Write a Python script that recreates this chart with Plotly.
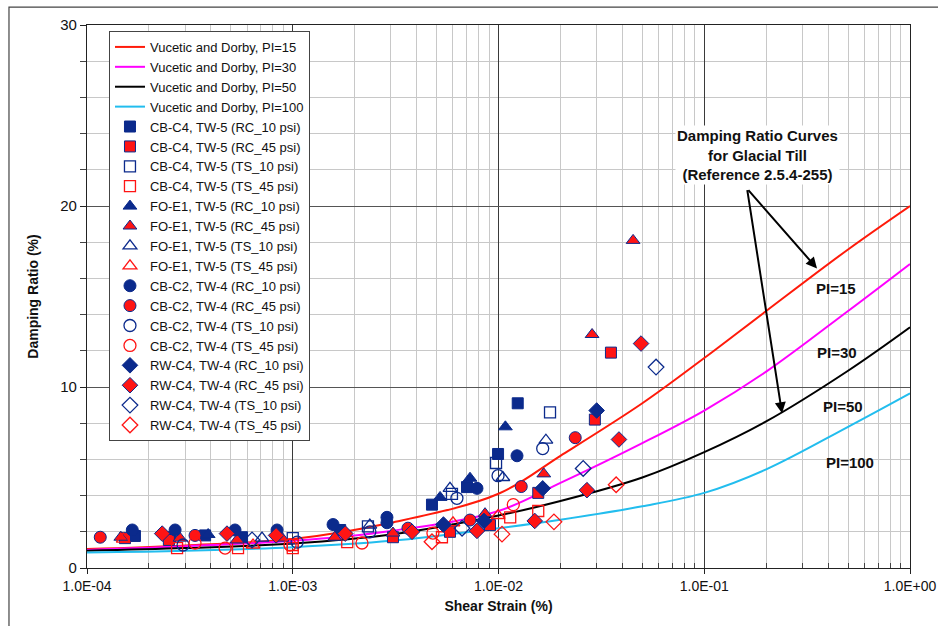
import plotly.graph_objects as go

# ---------------- data ----------------
curve_strain = [1e-4, 3e-4, 1e-3, 3e-3, 1e-2, 2e-2, 5e-2, 1e-1, 2e-1, 5e-1, 1.0]
curve_pi15 = [1.05, 1.25, 1.6, 2.5, 4.1, 6.2, 9.1, 11.6, 14.2, 17.6, 20.0]
curve_pi30 = [1.0, 1.2, 1.5, 2.05, 3.15, 4.7, 6.9, 8.7, 10.85, 14.2, 16.8]
curve_pi50 = [0.95, 1.1, 1.35, 1.85, 2.9, 3.7, 5.0, 6.4, 8.1, 10.9, 13.3]
curve_pi100 = [0.85, 0.95, 1.15, 1.5, 2.2, 2.67, 3.41, 4.15, 5.45, 7.8, 9.65]
curve_names = ["Vucetic and Dorby, PI=15", "Vucetic and Dorby, PI=30",
               "Vucetic and Dorby, PI=50", "Vucetic and Dorby, PI=100"]

cbc4_rc10_x = [1.71e-4, 2.53e-4, 3.75e-4, 5.67e-4, 1.70e-3, 4.75e-3, 7.03e-3, 9.95e-3, 1.24e-2]
cbc4_rc10_y = [1.77, 1.7, 1.8, 1.7, 2.1, 3.5, 4.47, 6.3, 9.1]
cbc4_rc45_x = [1.53e-4, 2.5e-4, 3.07e-3, 5.81e-3, 9.09e-3, 1.56e-2, 2.94e-2, 3.52e-2]
cbc4_rc45_y = [1.65, 1.55, 1.7, 2.0, 2.37, 4.15, 8.2, 11.9]
cbc4_ts10_x = [1.0e-3, 2.32e-3, 5.94e-3, 9.73e-3, 1.78e-2]
cbc4_ts10_y = [1.65, 2.3, 4.1, 5.8, 8.6]
cbc4_ts45_x = [2.74e-4, 5.42e-4, 1.0e-3, 1.0e-3, 1.84e-3, 5.31e-3, 1.14e-2, 1.56e-2]
cbc4_ts45_y = [1.1, 1.1, 1.27, 1.1, 1.43, 1.7, 2.8, 3.15]

foe1_rc10_x = [3.88e-4, 5.20e-3, 7.27e-3, 1.08e-2]
foe1_rc10_y = [1.85, 3.9, 4.96, 7.8]
foe1_rc45_x = [1.46e-4, 2.83e-4, 5.36e-4, 8.87e-4, 1.60e-3, 3.07e-3, 8.6e-3, 1.66e-2, 2.85e-2, 4.51e-2]
foe1_rc45_y = [1.7, 1.65, 1.55, 1.65, 1.7, 1.93, 3.0, 5.2, 12.9, 18.1]
foe1_ts10_x = [7.09e-4, 2.37e-3, 5.81e-3, 1.05e-2, 1.70e-2]
foe1_ts10_y = [1.65, 2.37, 4.4, 5.0, 7.06]
foe1_ts45_x = [1.5e-4, 6.41e-4, 6.01e-3, 9.95e-3]
foe1_ts45_y = [1.6, 1.27, 2.5, 2.9]

cbc2_rc10_x = [1.66e-4, 2.68e-4, 5.24e-4, 8.39e-4, 1.57e-3, 2.87e-3, 2.87e-3, 7.86e-3, 1.23e-2]
cbc2_rc10_y = [2.1, 2.1, 2.1, 2.1, 2.4, 2.8, 2.5, 4.4, 6.2]
cbc2_rc45_x = [1.16e-4, 3.35e-4, 3.63e-3, 7.27e-3, 1.29e-2, 2.36e-2]
cbc2_rc45_y = [1.7, 1.8, 2.2, 2.65, 4.5, 7.2]
cbc2_ts10_x = [2.93e-4, 1.05e-3, 2.37e-3, 6.28e-3, 9.95e-3, 1.64e-2]
cbc2_ts10_y = [1.27, 1.43, 2.0, 3.85, 5.1, 6.6]
cbc2_ts45_x = [3.35e-4, 4.69e-4, 9.7e-4, 2.17e-3, 4.8e-3, 1.18e-2]
cbc2_ts45_y = [1.38, 1.1, 1.27, 1.38, 1.93, 3.5]

rwc4_rc10_x = [5.4e-3, 8.5e-3, 1.64e-2, 3.0e-2]
rwc4_rc10_y = [2.4, 2.6, 4.4, 8.7]
rwc4_rc45_x = [2.32e-4, 4.79e-4, 8.3e-4, 1.80e-3, 3.80e-3, 7.86e-3, 1.5e-2, 2.69e-2, 3.85e-2, 4.93e-2]
rwc4_rc45_y = [1.9, 1.9, 1.8, 1.9, 2.0, 2.05, 2.6, 4.3, 7.1, 12.4]
rwc4_ts10_x = [6.34e-4, 6.65e-3, 2.58e-2, 5.83e-2]
rwc4_ts10_y = [1.55, 2.2, 5.5, 11.1]
rwc4_ts45_x = [4.75e-3, 1.04e-2, 1.86e-2, 3.73e-2]
rwc4_ts45_y = [1.45, 1.87, 2.55, 4.6]

x_tickvals = [1e-4, 1e-3, 1e-2, 1e-1, 1.0]
x_ticktext = ["1.0E-04", "1.0E-03", "1.0E-02", "1.0E-01", "1.0E+00"]
y_tickvals = [0, 10, 20, 30]

# ---------------- styling ----------------
NAVY = "#0B2A8C"
RED = "#FF1414"
curve_colors = ["#FF1A0A", "#FF00FF", "#000000", "#22BDEE"]
FONT = "Liberation Sans, Arial"

fig = go.Figure()
for name, ys, col in zip(curve_names, [curve_pi15, curve_pi30, curve_pi50, curve_pi100], curve_colors):
    fig.add_trace(go.Scatter(x=curve_strain, y=ys, mode="lines", name=name,
                             line=dict(color=col, width=2, shape="spline", smoothing=1.0)))

series = [
    ("CB-C4, TW-5 (RC_10 psi)", cbc4_rc10_x, cbc4_rc10_y, "square", "fb"),
    ("CB-C4, TW-5 (RC_45 psi)", cbc4_rc45_x, cbc4_rc45_y, "square", "fr"),
    ("CB-C4, TW-5 (TS_10 psi)", cbc4_ts10_x, cbc4_ts10_y, "square", "ob"),
    ("CB-C4, TW-5 (TS_45 psi)", cbc4_ts45_x, cbc4_ts45_y, "square", "or"),
    ("FO-E1, TW-5 (RC_10 psi)", foe1_rc10_x, foe1_rc10_y, "triangle-up", "fb"),
    ("FO-E1, TW-5 (RC_45 psi)", foe1_rc45_x, foe1_rc45_y, "triangle-up", "fr"),
    ("FO-E1, TW-5 (TS_10 psi)", foe1_ts10_x, foe1_ts10_y, "triangle-up", "ob"),
    ("FO-E1, TW-5 (TS_45 psi)", foe1_ts45_x, foe1_ts45_y, "triangle-up", "or"),
    ("CB-C2, TW-4 (RC_10 psi)", cbc2_rc10_x, cbc2_rc10_y, "circle", "fb"),
    ("CB-C2, TW-4 (RC_45 psi)", cbc2_rc45_x, cbc2_rc45_y, "circle", "fr"),
    ("CB-C2, TW-4 (TS_10 psi)", cbc2_ts10_x, cbc2_ts10_y, "circle", "ob"),
    ("CB-C2, TW-4 (TS_45 psi)", cbc2_ts45_x, cbc2_ts45_y, "circle", "or"),
    ("RW-C4, TW-4 (RC_10 psi)", rwc4_rc10_x, rwc4_rc10_y, "diamond", "fb"),
    ("RW-C4, TW-4 (RC_45 psi)", rwc4_rc45_x, rwc4_rc45_y, "diamond", "fr"),
    ("RW-C4, TW-4 (TS_10 psi)", rwc4_ts10_x, rwc4_ts10_y, "diamond", "ob"),
    ("RW-C4, TW-4 (TS_45 psi)", rwc4_ts45_x, rwc4_ts45_y, "diamond", "or"),
]
sizes = {"square": 11, "triangle-up": 12, "circle": 12, "diamond": 12}
for name, xs, ys, sym, kind in series:
    if kind == "fb":
        mk = dict(symbol=sym, color=NAVY, size=sizes[sym], line=dict(color=NAVY, width=1))
    elif kind == "fr":
        mk = dict(symbol=sym, color=RED, size=sizes[sym], line=dict(color=NAVY, width=1))
    elif kind == "ob":
        mk = dict(symbol=sym + "-open", color=NAVY, size=sizes[sym], line=dict(width=1.3))
    else:
        mk = dict(symbol=sym + "-open", color=RED, size=sizes[sym], line=dict(width=1.3))
    fig.add_trace(go.Scatter(x=xs, y=ys, mode="markers", name=name, marker=mk))

minor_x = [k * 10.0 ** e for e in range(-4, 0) for k in range(2, 10)]

fig.update_xaxes(
    type="log", range=[-4, 0], automargin=False,
    tickvals=x_tickvals, ticktext=x_ticktext,
    tickfont=dict(family=FONT, size=14, color="#111"),
    showgrid=True, gridcolor="#3a3a3a", gridwidth=1,
    showline=True, linecolor="#222", linewidth=1.2, mirror=True,
    ticks="outside", ticklen=5, tickcolor="#222",
    minor=dict(tickmode="array", tickvals=minor_x, showgrid=True, gridcolor="#c8c8c8",
               gridwidth=1.3, ticks="inside", ticklen=5, tickcolor="#444"),
    title=dict(text="<b>Shear Strain (%)</b>", font=dict(family=FONT, size=14, color="#111"),
               standoff=8),
    zeroline=False,
)
fig.update_yaxes(
    range=[0, 30], tickvals=y_tickvals, automargin=False,
    tickfont=dict(family=FONT, size=15, color="#111"),
    showgrid=True, gridcolor="#555555", gridwidth=1,
    showline=True, linecolor="#222", linewidth=1.2, mirror=True,
    ticks="outside", ticklen=6, tickcolor="#222",
    minor=dict(dtick=2, showgrid=True, gridcolor="#c8c8c8", gridwidth=1.3,
               ticks="outside", ticklen=6, tickcolor="#444"),
    title=dict(text="<b>Damping Ratio (%)</b>", font=dict(family=FONT, size=14, color="#111"),
               standoff=18),
    zeroline=False,
)

annot_font = dict(family=FONT, size=15, color="#111")
# text block
fig.add_annotation(x=-0.739, y=22.8, xref="x", yref="y", showarrow=False,
                   text="<b>Damping Ratio Curves<br>for Glacial Till<br>(Reference 2.5.4-255)</b>",
                   font=annot_font, align="center", bgcolor="white")
# arrows
fig.add_annotation(x=-0.452, y=16.55, ax=-0.792, ay=20.96, xref="x", yref="y",
                   axref="x", ayref="y", text="", showarrow=True,
                   arrowhead=2, arrowsize=1.1, arrowwidth=2, arrowcolor="#000")
fig.add_annotation(x=-0.622, y=8.55, ax=-0.792, ay=20.96, xref="x", yref="y",
                   axref="x", ayref="y", text="", showarrow=True,
                   arrowhead=2, arrowsize=1.1, arrowwidth=2, arrowcolor="#000")
# PI labels
for txt, lx, ly in [("PI=15", -0.36, 15.45), ("PI=30", -0.355, 11.9),
                    ("PI=50", -0.325, 8.9), ("PI=100", -0.29, 5.85)]:
    fig.add_annotation(x=lx, y=ly, xref="x", yref="y", showarrow=False,
                       text="<b>" + txt + "</b>", font=annot_font)

# outer frame of the picture
fig.add_shape(type="rect", xref="paper", yref="paper",
              x0=-0.0948, y0=-0.14, x1=1.05, y1=1.0331,
              line=dict(color="#444", width=1.2), fillcolor="rgba(0,0,0,0)", layer="below")

fig.update_layout(
    width=938, height=626,
    margin=dict(l=87, r=28, t=25, b=58),
    plot_bgcolor="white", paper_bgcolor="white",
    showlegend=True,
    legend=dict(x=0.0267, y=0.989, xanchor="left", yanchor="top",
                bgcolor="white", bordercolor="#444", borderwidth=1,
                font=dict(family=FONT, size=13, color="#111"),
                itemwidth=30, tracegroupgap=0, traceorder="normal"),
)

fig.write_html("out.html")
